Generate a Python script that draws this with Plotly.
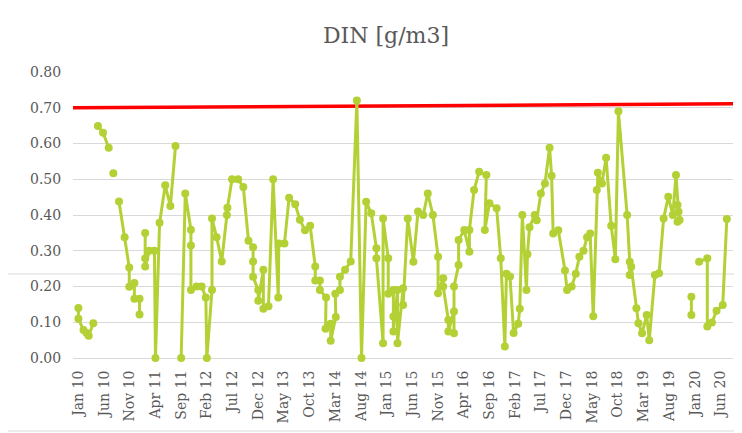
import plotly.graph_objects as go

# x position = months since Jan 2010, None = gap in the series
month_index = [
    0, 0, 1, 1.6, 2, 2.9, None,
    3.8, 4.8, 5.9, None,
    6.8, None,
    7.9, 9.0, 9.9, 9.9, 10.9, 10.9, 11.9, 11.9, None,
    13.0, 13.0, 13.0, 13.8, 14.8, 15.0, 15.8, 16.9, 17.9, 18.9, None,
    20.0, 20.8, 21.9, 21.9, 21.9, 23.0, 24.0, 24.8, 25.0, 26.0, 26.0, 26.9, 27.9,
    28.9, 29.0, 29.9, 31.1, 32.1, 33.1, 34.0, 34.0, 34.0, 35.0, 35.0, 36.0, 36.0,
    37.0, 37.9, 38.9, 39.0, 40.1, 41.0, 42.2, 43.1, 44.1, 45.1, 46.1, 46.1, 47.0,
    47.0, 48.2, 48.1, 49.1, 49.1, 50.1, 50.0, 50.9, 50.9, 51.9, 53.0, 54.2, 55.1,
    56.0, 57.0, 58.0, 58.0, 59.3, 59.3, 60.3, 60.3, 61.3, 61.3, 61.3, 62.1, 62.1,
    63.2, 63.2, 64.1, 65.2, 66.1, 67.1, 68.0, 69.0, 70.0, 70.0, 71.0, 71.0, 72.0,
    72.0, 73.1, 73.1, 73.1, 74.0, 74.0, 75.1, 76.1, 76.1, 77.0, 78.0, 79.4, 79.1,
    80.0, 81.4, 82.2, 83.0, 83.3, 84.0, 84.7, 85.6, 85.9, 86.4, 87.2, 87.4, 87.8,
    88.8, 89.2, 90.0, 90.8, 91.7, 92.1, 92.4, 93.4, 94.7, 95.1, 96.0, 96.8, 97.5,
    98.3, 99.0, 99.6, 100.2, 100.9, 101.1, 101.9, 102.7, 103.7, 104.5, 105.1,
    106.8, 107.3, 107.3, 107.6, 108.6, 109.0, 109.7, 110.6, 111.1, 112.2, 113.0,
    113.9, 114.8, 115.7, 116.3, 116.6, 116.8, 117.0, 116.6, None,
    119.3, 119.3, None,
    120.8, 122.4, 122.4, 123.3, 124.2, 125.4, 126.2,
]

din_values = [
    0.14, 0.11, 0.078, 0.07, 0.062, 0.097, None,
    0.649, 0.63, 0.588, None,
    0.517, None,
    0.438, 0.338, 0.253, 0.199, 0.21, 0.166, 0.166, 0.122, None,
    0.35, 0.278, 0.256, 0.30, 0.30, 0.0, 0.378, 0.483, 0.425, 0.593, None,
    0.0, 0.46, 0.359, 0.315, 0.19, 0.20, 0.20, 0.169, 0.0, 0.19, 0.39, 0.338, 0.27,
    0.40, 0.42, 0.50, 0.50, 0.478, 0.328, 0.31, 0.27, 0.227, 0.19, 0.16, 0.247, 0.138,
    0.145, 0.50, 0.169, 0.32, 0.32, 0.448, 0.43, 0.387, 0.357, 0.37, 0.256, 0.217, 0.217,
    0.19, 0.169, 0.082, 0.096, 0.048, 0.115, 0.18, 0.19, 0.227, 0.247, 0.27, 0.72, 0.0,
    0.437, 0.405, 0.307, 0.279, 0.041, 0.39, 0.279, 0.18, 0.19, 0.116, 0.074, 0.19, 0.041,
    0.195, 0.148, 0.39, 0.269, 0.41, 0.40, 0.46, 0.40, 0.283, 0.181, 0.223, 0.20, 0.106,
    0.074, 0.13, 0.069, 0.20, 0.26, 0.33, 0.358, 0.297, 0.358, 0.47, 0.521, 0.512, 0.358,
    0.433, 0.419, 0.279, 0.032, 0.236, 0.228, 0.07, 0.096, 0.138, 0.40, 0.19, 0.29, 0.366,
    0.40, 0.385, 0.46, 0.488, 0.588, 0.51, 0.348, 0.357, 0.245, 0.19, 0.20, 0.236, 0.283,
    0.30, 0.338, 0.348, 0.117, 0.47, 0.518, 0.488, 0.56, 0.37, 0.276, 0.69,
    0.40, 0.269, 0.232, 0.255, 0.139, 0.097, 0.069, 0.12, 0.05, 0.232, 0.237,
    0.39, 0.451, 0.40, 0.512, 0.428, 0.409, 0.386, 0.381, None,
    0.171, 0.12, None,
    0.269, 0.279, 0.088, 0.099, 0.132, 0.148, 0.389,
]

tick_months = [0, 5, 10, 15, 20, 25, 30, 35, 40, 45, 50, 55, 60, 65, 70, 75, 80,
               85, 90, 95, 100, 105, 110, 115, 120, 125]
tick_labels = ["Jan 10", "Jun 10", "Nov 10", "Apr 11", "Sep 11", "Feb 12", "Jul 12",
               "Dec 12", "May 13", "Oct 13", "Mar 14", "Aug 14", "Jan 15", "Jun 15",
               "Nov 15", "Apr 16", "Sep 16", "Feb 17", "Jul 17", "Dec 17", "May 18",
               "Oct 18", "Mar 19", "Aug 19", "Jan 20", "Jun 20"]

limit_x = [-1.05, 127.4]
limit_y = [0.700, 0.711]

GREEN = "#B3D135"
GREY = "#595959"
FONT = "DejaVu Serif"

# page body adds an 8px offset; figure is sized so it ends at the window edge
W, H = 734, 425
L, T, PW, PH = 65, 64, 660, 286

fig = go.Figure()
fig.add_trace(go.Scatter(x=limit_x, y=limit_y, mode="lines",
                         line=dict(color="#FF0000", width=3.5),
                         hoverinfo="skip", showlegend=False, cliponaxis=False))
fig.add_trace(go.Scatter(x=month_index, y=din_values, mode="lines+markers",
                         line=dict(color=GREEN, width=3),
                         marker=dict(color=GREEN, size=8),
                         connectgaps=False, showlegend=False, cliponaxis=False))

fig.update_layout(
    width=W, height=H,
    margin=dict(l=L, r=W - L - PW, t=T, b=H - T - PH, autoexpand=False),
    paper_bgcolor="white", plot_bgcolor="white",
    title=dict(text="DIN [g/m3]", x=378 / W, xanchor="center", y=1 - 27 / H, yanchor="middle",
               font=dict(family=FONT, size=22, color=GREY)),
    font=dict(family=FONT, color=GREY),
    xaxis=dict(range=[-1.05, 127.4], tickvals=tick_months, ticktext=tick_labels,
               tickangle=-90, showgrid=False, zeroline=False, showline=False,
               ticks="outside", ticklen=6, tickcolor="rgba(0,0,0,0)",
               tickfont=dict(family=FONT, size=14, color=GREY)),
    yaxis=dict(range=[0, 0.8], dtick=0.1, tickformat=".2f", showgrid=True,
               gridcolor="#D9D9D9", gridwidth=1, zeroline=True,
               zerolinecolor="#D9D9D9", zerolinewidth=1, showline=False,
               ticks="outside", ticklen=8, tickcolor="rgba(0,0,0,0)",
               tickfont=dict(family=FONT, size=14, color=GREY)),
    shapes=[dict(type="rect", xref="paper", yref="paper",
                 x0=(-20 - L) / PW, x1=(W - 1 - L) / PW,
                 y0=(T + PH - (H - 2)) / PH, y1=(T + 20) / PH,
                 line=dict(color="#D9D9D9", width=1), layer="below")],
)

fig.write_html("out.html")
